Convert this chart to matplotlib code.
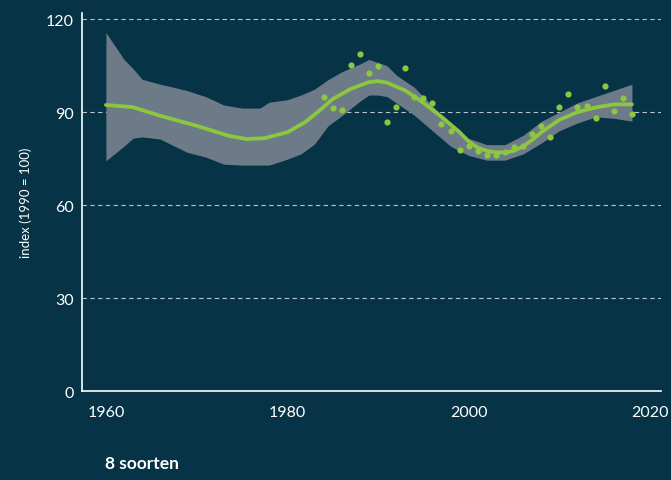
import numpy as np
import matplotlib.pyplot as plt

# trend line (index, 1990 = 100)
trend_years = [1960, 1963, 1966, 1970, 1973.5, 1975.5, 1977.5, 1980, 1982, 1983.5, 1985,
               1987, 1989, 1990, 1991, 1993, 1995, 1997, 1999, 2000, 2001, 2002, 2003,
               2004, 2005, 2006, 2007, 2008, 2009, 2010, 2012, 2014, 2016, 2018]
trend = [92.3, 91.6, 88.8, 85.6, 82.4, 81.3, 81.6, 83.5, 86.8, 90.4, 94.2,
         97.5, 99.7, 100, 99.5, 97, 93, 88.5, 83.5, 80.5, 78.5, 77.5, 77,
         77, 77.5, 79, 81, 83.5, 85.5, 87.5, 90, 91.5, 92.5, 92.5]

# confidence band
band_years = [1960, 1962, 1963, 1964, 1966, 1967.5, 1969, 1971, 1973, 1975, 1977, 1978,
              1980, 1981.5, 1983, 1984.5, 1986, 1988, 1989, 1990, 1991, 1992, 1994,
              1996, 1998, 2000, 2002, 2004, 2006, 2008, 2010, 2012, 2014, 2016, 2018]
band_hi = [115.7, 107, 104, 100.6, 99, 98, 96.9, 95, 92.3, 91.3, 91.3, 93.2,
           94, 95.5, 97.4, 100.5, 103, 105.5, 107, 106, 105, 102, 98,
           92, 86, 81.5, 79.5, 79.5, 82.5, 87, 90, 93, 95, 97, 99]
band_lo = [74.3, 79, 81.6, 82, 81.3, 79.1, 77, 75.5, 73.2, 72.9, 72.9, 72.9,
           74.8, 76.5, 79.7, 85.6, 88.8, 93.5, 95.5, 95.5, 95, 93, 89,
           84, 79, 76, 74.5, 74.5, 76.5, 80, 84, 86.5, 88.5, 88, 87.1]

# yearly index values
obs_years = list(range(1984, 2019))
obs = [94.8, 91.3, 90.6, 105.2, 108.7, 102.6, 104.8, 86.8, 91.6, 104.2,
       94.8, 94.5, 92.9, 86.1, 83.9, 77.7, 79, 77.5, 76.1, 76.1,
       77, 78.7, 79, 82.9, 85.5, 81.9, 91.6, 95.8, 91.6, 91.9,
       88, 98.4, 90.3, 94.5, 89.4]

bg = '#063446'
green = '#8dc63f'
band_col = '#6c7b87'

plt.rcParams['font.family'] = ['Lato', 'DejaVu Sans']

fig = plt.figure(figsize=(6.71, 4.81), dpi=100, facecolor=bg)
ax = fig.add_axes([0.122, 0.185, 0.863, 0.786], facecolor=bg)

ax.fill_between(band_years, band_lo, band_hi, color=band_col, lw=0, zorder=2)
ax.plot(trend_years, trend, color=green, lw=2.7, zorder=3, solid_capstyle='round')
ax.scatter(obs_years, obs, s=20, color=green, lw=0, zorder=4)

ax.set_xlim(1957.35, 2021.2)
ax.set_ylim(0, 122)
ax.set_xticks([1960, 1980, 2000, 2020])
ax.set_yticks([0, 30, 60, 90, 120])
for y in [30, 60, 90, 120]:
    ax.axhline(y, color='#b8c4cc', lw=0.8, ls=(0, (4, 3)), zorder=1)

for s in ['top', 'right']:
    ax.spines[s].set_visible(False)
for s in ['left', 'bottom']:
    ax.spines[s].set_color('white')
    ax.spines[s].set_linewidth(1.2)
ax.tick_params(length=0, colors='white', labelsize=11.5)
ax.tick_params(axis='x', pad=10)
ax.tick_params(axis='y', pad=6)

ax.set_ylabel('index (1990 = 100)', color='white', fontsize=9.5, labelpad=10)
fig.text(0.157, 0.025, '8 soorten', color='white', fontsize=12.5, fontweight='bold')

fig.savefig('out.png', dpi=100, facecolor=bg)
